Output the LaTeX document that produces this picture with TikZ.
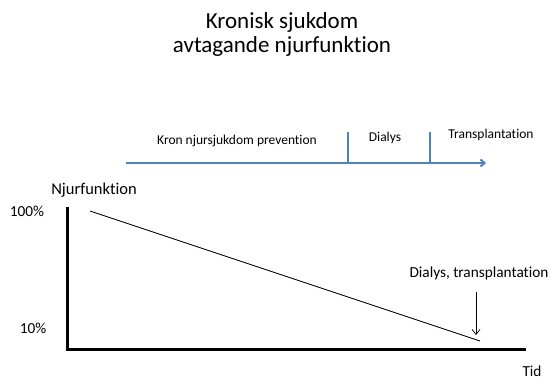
\documentclass[tikz,border=0pt]{standalone}
\usepackage{fontspec}
\setmainfont{Carlito}[Ligatures=NoCommon]
\usetikzlibrary{positioning,arrows.meta}
\definecolor{pptblue}{RGB}{79,129,189}

\begin{document}
\begin{tikzpicture}[x=1pt,y=-1pt,
    titletext/.style={font=\fontsize{23}{24}\selectfont, anchor=base},
    phase/.style={font=\fontsize{13.5}{16}\selectfont, anchor=base},
    axislabel/.style={font=\fontsize{15.3}{18}\selectfont, anchor=base},
    timeline/.style={pptblue, line width=2pt},
    axisline/.style={line width=3pt, line join=miter}]
    \useasboundingbox (0,0) rectangle (551,379);
    \node[titletext] (T1) at (282,29) {Kronisk sjukdom};
    \node[titletext] (T2) at (282,53) {avtagande njurfunktion};
    % tidslinje
    \coordinate (L0) at (126,163);
    \coordinate (L1) at (486,163);
    \coordinate (S1) at (348,163);
    \coordinate (S1t) at (348,132);
    \coordinate (S2) at (430,163);
    \coordinate (S2t) at (430,132);
    \draw[timeline, -{Straight Barb[length=4pt,width=7pt]}] (L0) -- (L1);
    \draw[timeline] (S1) -- (S1t) (S2) -- (S2t);
    \node[phase] (Kron) at (237,145) {Kron njursjukdom prevention};
    \node[phase] (Dia) at (385,142) {Dialys};
    \node[phase] (Tx) at (491,139) {Transplantation};
    % diagram
    \coordinate (O) at (67,349);
    \coordinate (Ytop) at (67,207);
    \coordinate (Xend) at (526,349);
    \draw[axisline] (Ytop) -- (O) -- (Xend);
    \node[axislabel, font=\fontsize{16.5}{19}\selectfont] (Nj) at (94,195) {Njurfunktion};
    \node[axislabel] (P100) at (27,217) {100\%};
    \node[axislabel] (P10) at (33,333) {10\%};
    \node[axislabel, inner sep=1pt] (Tid) at (532,376) {Tid};
    \node[axislabel, inner sep=1pt] (Behandling) at (479,277) {Dialys, transplantation};
    \coordinate (F0) at (90,211);
    \coordinate (F1) at (480,341);
    \draw[line width=0.9pt] (F0) -- (F1);
    \coordinate (A0) at (476,292);
    \coordinate (A1) at (476,335);
    \draw[line width=0.7pt, -{Straight Barb[length=5pt,width=8pt]}] (A0) -- (A1);
\end{tikzpicture}
\end{document}
